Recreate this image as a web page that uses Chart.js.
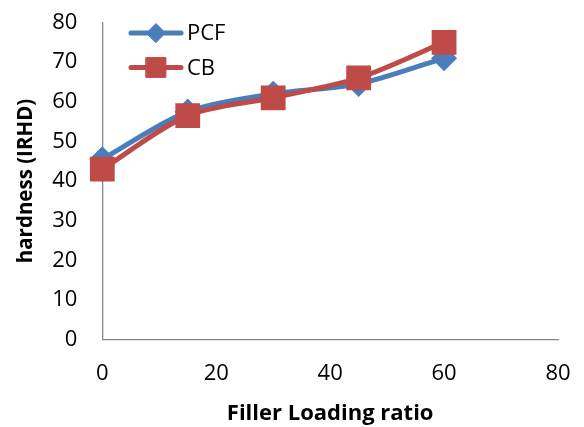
<!DOCTYPE html>
<html>
<head>
<meta charset="utf-8">
<script src="https://cdn.jsdelivr.net/npm/chart.js@4/dist/chart.umd.min.js"></script>
<style>
  html, body { margin: 0; padding: 0; background: #fff; }
  #wrap { width: 584px; height: 427px; position: relative; }
</style>
</head>
<body>
<div id="wrap"><canvas id="c"></canvas></div>
<script>
// Filler loading (x) and measured hardness for each filler type
const loading = [0, 15, 30, 45, 60];
const pcfHardness = [45.5, 57.5, 62, 64.5, 71];
const cbHardness = [43, 56.5, 61, 66, 75];
const xTicks = [0, 20, 40, 60, 80];
const yTicks = [0, 10, 20, 30, 40, 50, 60, 70, 80];

const FONT = '"Open Sans", Lato, sans-serif';
const BLUE = '#4a7ebb';
const RED = '#be4b48';
const AXIS = '#868686';

const toPoints = (ys) => loading.map((x, i) => ({ x: x, y: ys[i] }));

// Invisible tick marks give the gap between the axis line and its labels
const hiddenTicks = (len) => ({
  display: true,
  drawOnChartArea: false,
  drawTicks: true,
  tickLength: len,
  color: 'rgba(0,0,0,0)',
  tickColor: 'rgba(0,0,0,0)'
});

// Legend drawn inside the plot area, line sample with its marker then the label
const insideLegend = {
  id: 'insideLegend',
  afterDatasetsDraw(chart) {
    const ctx = chart.ctx;
    const rows = [33, 67.5];
    chart.data.datasets.forEach((ds, i) => {
      const y = rows[i];
      ctx.save();
      ctx.strokeStyle = ds.borderColor;
      ctx.lineWidth = ds.borderWidth;
      ctx.lineCap = 'round';
      ctx.beginPath();
      ctx.moveTo(131, y);
      ctx.lineTo(181, y);
      ctx.stroke();
      ctx.fillStyle = ds.pointBackgroundColor;
      ctx.strokeStyle = ds.pointBorderColor;
      ctx.lineWidth = 1;
      Chart.helpers.drawPoint(ctx, {
        pointStyle: ds.pointStyle,
        radius: ds.pointRadius,
        rotation: 0,
        borderWidth: 1
      }, 156, y);
      ctx.fillStyle = '#000';
      ctx.font = '22px ' + FONT;
      ctx.textBaseline = 'middle';
      ctx.textAlign = 'left';
      ctx.fillText(ds.label, 187, y + 1);
      ctx.restore();
    });
  }
};

new Chart(document.getElementById('c'), {
  type: 'line',
  data: {
    datasets: [
      {
        label: 'PCF',
        data: toPoints(pcfHardness),
        borderColor: BLUE,
        backgroundColor: BLUE,
        pointBackgroundColor: BLUE,
        pointBorderColor: BLUE,
        borderWidth: 5,
        pointStyle: 'rectRot',
        pointRadius: 9.5,
        pointHoverRadius: 9.5,
        tension: 0.3,
        clip: false,
        order: 1
      },
      {
        label: 'CB',
        data: toPoints(cbHardness),
        borderColor: RED,
        backgroundColor: RED,
        pointBackgroundColor: RED,
        pointBorderColor: RED,
        borderWidth: 5,
        pointStyle: 'rect',
        pointRadius: 14,
        pointHoverRadius: 14,
        tension: 0.3,
        clip: false,
        order: 0
      }
    ]
  },
  options: {
    responsive: true,
    maintainAspectRatio: false,
    animation: false,
    events: [],
    layout: { padding: { left: 0, top: 22.5, right: 26, bottom: 0 } },
    plugins: {
      legend: { display: false },
      tooltip: { enabled: false }
    },
    scales: {
      x: {
        type: 'linear',
        min: 0,
        max: 80,
        afterBuildTicks: (s) => { s.ticks = xTicks.map(v => ({ value: v })); },
        afterFit: (s) => { s.height = 87.5; },
        grid: hiddenTicks(21),
        border: { display: true, color: AXIS, width: 1.3 },
        ticks: { color: '#000', font: { family: FONT, size: 22 }, padding: 0, maxRotation: 0 },
        title: {
          display: true,
          text: 'Filler Loading ratio',
          color: '#000',
          font: { family: FONT, size: 22, weight: 'bold' },
          padding: { top: 0, bottom: 0 }
        }
      },
      y: {
        type: 'linear',
        min: 0,
        max: 80,
        afterBuildTicks: (s) => { s.ticks = yTicks.map(v => ({ value: v })); },
        afterFit: (s) => { s.width = 102.3; },
        grid: hiddenTicks(25),
        border: { display: true, color: AXIS, width: 1.3 },
        ticks: { color: '#000', font: { family: FONT, size: 22 }, padding: 0 },
        title: {
          display: true,
          text: 'hardness (IRHD)',
          color: '#000',
          font: { family: FONT, size: 20.5, weight: 'bold' },
          padding: { top: 14, bottom: 0 }
        }
      }
    }
  },
  plugins: [insideLegend]
});
</script>
</body>
</html>
